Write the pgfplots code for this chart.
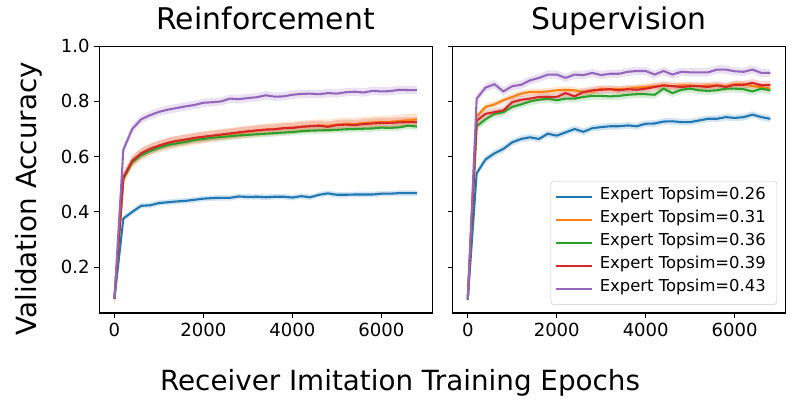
\documentclass[border=0pt]{standalone}
\usepackage{pgfplots}
\pgfplotsset{compat=1.18}
\usepackage{pgfplotstable}
\usepgfplotslibrary{fillbetween}
\usepackage{fontspec}
\setmainfont{DejaVu Sans}
\definecolor{c0}{HTML}{1F77B4}
\definecolor{c1}{HTML}{FF7F0E}
\definecolor{c2}{HTML}{2CA02C}
\definecolor{c3}{HTML}{D62728}
\definecolor{c4}{HTML}{9467BD}

\pgfplotstableread{
x b o g r p
0 0.085 0.085 0.085 0.085 0.085
200 0.376 0.520 0.520 0.525 0.625
400 0.400 0.580 0.580 0.585 0.700
600 0.422 0.608 0.605 0.612 0.735
800 0.424 0.625 0.620 0.628 0.750
1000 0.432 0.636 0.632 0.640 0.762
1200 0.435 0.646 0.642 0.650 0.770
1400 0.438 0.653 0.648 0.657 0.776
1600 0.440 0.659 0.653 0.662 0.782
1800 0.444 0.665 0.660 0.668 0.787
2000 0.448 0.670 0.664 0.672 0.795
2200 0.450 0.674 0.668 0.676 0.797
2400 0.451 0.678 0.671 0.680 0.800
2600 0.451 0.682 0.674 0.684 0.810
2800 0.456 0.686 0.677 0.688 0.808
3000 0.454 0.690 0.679 0.692 0.812
3200 0.455 0.694 0.681 0.695 0.815
3400 0.453 0.697 0.683 0.698 0.822
3600 0.455 0.700 0.685 0.699 0.817
3800 0.455 0.703 0.687 0.703 0.818
4000 0.452 0.705 0.689 0.704 0.824
4200 0.457 0.708 0.692 0.708 0.827
4400 0.453 0.711 0.694 0.710 0.828
4600 0.462 0.713 0.695 0.712 0.826
4800 0.467 0.712 0.696 0.708 0.830
5000 0.462 0.716 0.697 0.714 0.828
5200 0.462 0.719 0.699 0.716 0.833
5400 0.463 0.718 0.700 0.714 0.835
5600 0.463 0.722 0.701 0.718 0.832
5800 0.463 0.724 0.702 0.720 0.838
6000 0.466 0.726 0.705 0.722 0.836
6200 0.466 0.726 0.704 0.722 0.837
6400 0.468 0.729 0.706 0.724 0.842
6600 0.468 0.732 0.712 0.725 0.841
6800 0.468 0.735 0.709 0.725 0.841
}\Lt

\pgfplotstableread{
x b o g r p
0 0.083 0.083 0.083 0.083 0.083
200 0.540 0.745 0.710 0.730 0.810
400 0.590 0.780 0.735 0.755 0.850
600 0.612 0.789 0.755 0.761 0.862
800 0.628 0.804 0.761 0.767 0.836
1000 0.652 0.816 0.780 0.797 0.855
1200 0.664 0.828 0.789 0.806 0.860
1400 0.670 0.834 0.800 0.810 0.876
1600 0.664 0.834 0.806 0.816 0.885
1800 0.683 0.836 0.810 0.816 0.897
2000 0.676 0.840 0.804 0.816 0.897
2200 0.688 0.842 0.810 0.830 0.885
2400 0.700 0.840 0.810 0.818 0.897
2600 0.690 0.834 0.816 0.834 0.895
2800 0.703 0.836 0.820 0.840 0.903
3000 0.707 0.846 0.820 0.842 0.895
3200 0.710 0.844 0.818 0.844 0.900
3400 0.710 0.844 0.820 0.840 0.900
3600 0.713 0.846 0.824 0.844 0.907
3800 0.710 0.850 0.826 0.842 0.910
4000 0.719 0.852 0.826 0.846 0.910
4200 0.720 0.855 0.824 0.852 0.897
4400 0.727 0.858 0.846 0.858 0.910
4600 0.728 0.855 0.830 0.855 0.897
4800 0.725 0.858 0.842 0.852 0.907
5000 0.725 0.858 0.846 0.855 0.905
5200 0.731 0.855 0.840 0.855 0.905
5400 0.737 0.858 0.838 0.852 0.905
5600 0.737 0.858 0.840 0.858 0.915
5800 0.743 0.855 0.846 0.852 0.915
6000 0.740 0.862 0.846 0.860 0.909
6200 0.743 0.862 0.844 0.860 0.907
6400 0.752 0.855 0.836 0.867 0.915
6600 0.743 0.852 0.846 0.858 0.903
6800 0.737 0.846 0.840 0.860 0.903
}\Rt

\pgfplotsset{
  panel/.style={
    scale only axis, width=239.6pt, height=192.2pt,
    xmin=-340, xmax=7140, ymin=0.034, ymax=1.0,
    xtick={0,2000,4000,6000}, ytick={0.2,0.4,0.6,0.8,1.0},
    scaled x ticks=false,
    /pgf/number format/assume math mode=true,
    /pgf/number format/1000 sep={},
    yticklabel style={/pgf/number format/fixed,/pgf/number format/fixed zerofill,/pgf/number format/precision=1},
    axis line style={line width=0.8pt},
    tick style={line width=0.8pt, black},
    tick align=outside, major tick length=3.5pt,
    xtick pos=bottom, ytick pos=left,
    ticklabel style={font=\fontsize{13}{15.6}\selectfont},
    title style={at={(0.5,1)}, anchor=base, yshift=6pt, font=\fontsize{21.5}{25}\selectfont},
    every axis plot/.append style={line width=1.5pt},
  },
  band/.style={draw=none, forget plot},
}

\newcommand{\series}[4]{% table, column, color, halfwidth
  \addplot[band, name path=U#2] table[x=x, y expr=\thisrow{#2}+#4] {#1};
  \addplot[band, name path=L#2] table[x=x, y expr=\thisrow{#2}-#4] {#1};
  \addplot[#3, fill opacity=0.2, draw=none, forget plot] fill between[of=U#2 and L#2];
  \addplot[#3, line width=1.5pt] table[x=x, y=#2] {#1};
}

\begin{document}
\begin{tikzpicture}
\begin{axis}[panel, at={(0,0)}, anchor=south west, title={Reinforcement}]
\series{\Lt}{b}{c0}{0.010}
\series{\Lt}{o}{c1}{0.022}
\series{\Lt}{g}{c2}{0.012}
\series{\Lt}{r}{c3}{0.018}
\series{\Lt}{p}{c4}{0.015}
\end{axis}
\begin{axis}[panel, at={(254.4pt,0)}, anchor=south west, title={Supervision},
  yticklabels={},
  legend style={at={(1,0)}, anchor=south east, xshift=-6pt, yshift=6pt,
    draw=black!20, rounded corners=2pt, fill=white, fill opacity=0.8, text opacity=1,
    font=\fontsize{11.8}{14}\selectfont, inner xsep=3pt, inner ysep=3pt, row sep=0pt,
    nodes={inner xsep=5pt, inner ysep=0pt, text height=10pt, text depth=6.56pt}},
  legend cell align=left,
  legend image code/.code={\draw[#1] (0pt,0pt) -- (25.7pt,0pt);}]
\series{\Rt}{b}{c0}{0.012}
\addlegendentry{Expert Topsim=0.26}
\series{\Rt}{o}{c1}{0.012}
\addlegendentry{Expert Topsim=0.31}
\series{\Rt}{g}{c2}{0.014}
\addlegendentry{Expert Topsim=0.36}
\series{\Rt}{r}{c3}{0.014}
\addlegendentry{Expert Topsim=0.39}
\series{\Rt}{p}{c4}{0.015}
\addlegendentry{Expert Topsim=0.43}
\end{axis}
\node[anchor=base, font=\fontsize{20}{24}\selectfont] at (216.5pt,-55.8pt) {Receiver Imitation Training Epochs};
\node[anchor=base, rotate=90, font=\fontsize{20}{24}\selectfont] at (-44.9pt,82.4pt) {Validation Accuracy};
\pgfresetboundingbox
\path[use as bounding box] (-71.5pt,-62.6pt) rectangle (504.5pt,225.4pt);
\end{tikzpicture}
\end{document}
